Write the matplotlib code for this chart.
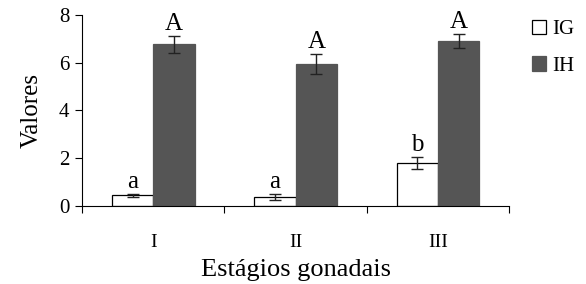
import matplotlib.pyplot as plt
import numpy as np

plt.rcParams['font.family'] = ['Liberation Serif', 'DejaVu Serif']

estagios = ["I", "II", "III"]
ig = [0.45, 0.38, 1.80]
ig_err = [0.06, 0.12, 0.25]
ih = [6.78, 5.94, 6.90]
ih_err = [0.35, 0.42, 0.30]
ig_letras = ["a", "a", "b"]
ih_letras = ["A", "A", "A"]

fig = plt.figure(figsize=(5.86, 2.84), dpi=100)
ax = fig.add_axes([0.140, 0.275, 0.729, 0.672])

x = np.arange(len(estagios)) + 0.5
w = 0.29

ax.bar(x - w / 2, ig, w, color='white', edgecolor='black', linewidth=0.9, label='IG')
ax.bar(x + w / 2, ih, w, color='#555555', edgecolor='#555555', linewidth=0.9, label='IH')
ax.errorbar(x - w / 2, ig, yerr=ig_err, fmt='none', ecolor='#222222', elinewidth=1, capsize=4, capthick=1)
ax.errorbar(x + w / 2, ih, yerr=ih_err, fmt='none', ecolor='#222222', elinewidth=1, capsize=4, capthick=1)

for xi, v, e, t in zip(x - w / 2, ig, ig_err, ig_letras):
    ax.text(xi, v + e + 0.05, t, ha='center', va='bottom', fontsize=18)
for xi, v, e, t in zip(x + w / 2, ih, ih_err, ih_letras):
    ax.text(xi, v + e + 0.05, t, ha='center', va='bottom', fontsize=18)

ax.set_xlim(0, 3)
ax.set_ylim(0, 8)
ax.set_yticks([0, 2, 4, 6, 8])
ax.set_xticks([0, 1, 2, 3])
ax.set_xticklabels([])
ax.set_xticks(x, minor=True)
ax.set_xticklabels(estagios, minor=True)
ax.tick_params(axis='x', which='major', length=5, direction='out')
ax.tick_params(axis='x', which='minor', length=0, pad=20, labelsize=14)
ax.tick_params(axis='y', length=5, direction='out', labelsize=15, pad=4)
ax.spines['top'].set_visible(False)
ax.spines['right'].set_visible(False)

ax.set_ylabel('Valores', fontsize=18, labelpad=12)
ax.set_xlabel('Estágios gonadais', fontsize=19, labelpad=6)

ax.legend(loc='upper left', bbox_to_anchor=(0.907, 0.93), bbox_transform=fig.transFigure,
          frameon=False, fontsize=15, borderaxespad=0, borderpad=0,
          handlelength=0.7, handleheight=0.7, handletextpad=0.3, labelspacing=0.8)

fig.savefig('out.png', dpi=100)
